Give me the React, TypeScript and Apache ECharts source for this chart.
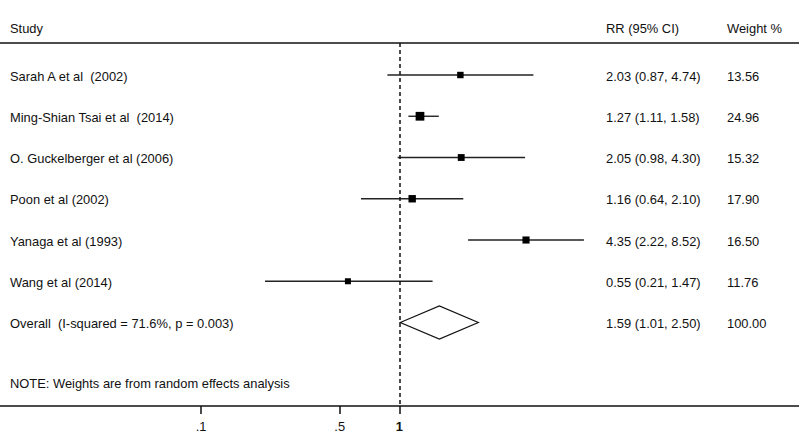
import React, { useEffect, useRef } from "react";
import * as echarts from "echarts";

const studies = [
  "Sarah A et al  (2002)",
  "Ming-Shian Tsai et al  (2014)",
  "O. Guckelberger et al (2006)",
  "Poon et al (2002)",
  "Yanaga et al (1993)",
  "Wang et al (2014)",
];
const rr = [2.03, 1.27, 2.05, 1.16, 4.35, 0.55];
const lower = [0.87, 1.11, 0.98, 0.64, 2.22, 0.21];
const upper = [4.74, 1.58, 4.3, 2.1, 8.52, 1.47];
const weights = [13.56, 24.96, 15.32, 17.9, 16.5, 11.76];

const overallLabel = "Overall  (I-squared = 71.6%, p = 0.003)";
const overallRR = 1.59;
const overallLower = 1.01;
const overallUpper = 2.5;
const overallWeight = 100.0;

const tickValues = [0.1, 0.5, 1];
const tickLabels = [".1", ".5", "1"];

const headers = ["Study", "RR (95% CI)", "Weight %"];
const note = "NOTE: Weights are from random effects analysis";

const FONT = "Liberation Sans, Arial, sans-serif";
const FS = 12.9;
const COL_STUDY = 10;
const COL_RR = 606;
const COL_W = 727;

const fmtCI = (m: number, l: number, u: number) =>
  `${m.toFixed(2)} (${l.toFixed(2)}, ${u.toFixed(2)})`;

export default function App() {
  const ref = useRef<HTMLDivElement>(null);
  useEffect(() => {
    if (!ref.current) return;
    const chart = echarts.init(ref.current, null, { renderer: "svg" });
    const studyData = studies.map((_, i) => [
      i + 1,
      Math.log10(rr[i]),
      Math.log10(lower[i]),
      Math.log10(upper[i]),
      weights[i],
    ]);
    const overallRow = studies.length + 1;
    const overallData = [
      [
        overallRow,
        Math.log10(overallRR),
        Math.log10(overallLower),
        Math.log10(overallUpper),
        overallWeight,
      ],
    ];
    const txt = (x: number, y: number, text: string) => ({
      type: "text",
      x,
      y,
      style: {
        text,
        fill: "#111",
        fontSize: FS,
        fontFamily: FONT,
        verticalAlign: "middle",
        align: "left",
      },
    });
    const tickLog = tickValues.map((v) => Math.log10(v));
    const option: any = {
      animation: false,
      backgroundColor: "#fff",
      grid: { left: 0, right: 0, top: 43, bottom: 39 },
      xAxis: [
        {
          type: "value",
          min: -2.014,
          max: 2.015,
          position: "bottom",
          axisLine: { show: true, lineStyle: { color: "#111", width: 1.5 } },
          splitLine: { show: false },
          axisTick: {
            show: true,
            customValues: tickLog,
            length: 8,
            lineStyle: { color: "#111", width: 1.5 },
          },
          axisLabel: {
            customValues: tickLog,
            margin: 14,
            fontSize: FS,
            fontFamily: FONT,
            color: "#111",
            formatter: (v: number) => {
              const idx = tickLog.findIndex((t) => Math.abs(t - v) < 1e-6);
              if (idx < 0) return "";
              return tickValues[idx] === 1
                ? `{b|${tickLabels[idx]}}`
                : tickLabels[idx];
            },
            rich: {
              b: { fontWeight: "bold", fontSize: FS, fontFamily: FONT, color: "#111" },
            },
          },
        },
        {
          type: "value",
          min: -2.014,
          max: 2.015,
          position: "top",
          axisLine: { show: true, lineStyle: { color: "#111", width: 1.5 } },
          axisTick: { show: false },
          axisLabel: { show: false },
          splitLine: { show: false },
        },
      ],
      yAxis: {
        type: "value",
        inverse: true,
        min: 0.224,
        max: 9.024,
        show: false,
        splitLine: { show: false },
      },
      graphic: [
        txt(COL_STUDY, 28, headers[0]),
        txt(COL_RR, 28, headers[1]),
        txt(COL_W, 28, headers[2]),
        txt(COL_STUDY, 383, note),
      ],
      series: [
        {
          type: "custom",
          xAxisIndex: 0,
          data: studyData,
          encode: { x: [1, 2, 3], y: 0 },
          renderItem: (params: any, api: any) => {
            const i = params.dataIndex;
            const row = api.value(0);
            const c = api.coord([api.value(1), row]);
            const lo = api.coord([api.value(2), row]);
            const hi = api.coord([api.value(3), row]);
            const s = 1.75 * Math.sqrt(api.value(4));
            return {
              type: "group",
              children: [
                {
                  type: "line",
                  shape: { x1: lo[0], y1: c[1], x2: hi[0], y2: c[1] },
                  style: { stroke: "#222", lineWidth: 1.4 },
                },
                {
                  type: "rect",
                  shape: { x: c[0] - s / 2, y: c[1] - s / 2, width: s, height: s },
                  style: { fill: "#000" },
                },
                txt(COL_STUDY, c[1] + 1, studies[i]),
                txt(COL_RR, c[1] + 1, fmtCI(rr[i], lower[i], upper[i])),
                txt(COL_W, c[1] + 1, weights[i].toFixed(2)),
              ],
            };
          },
        },
        {
          type: "custom",
          xAxisIndex: 0,
          data: overallData,
          encode: { x: [1, 2, 3], y: 0 },
          renderItem: (params: any, api: any) => {
            const row = api.value(0);
            const c = api.coord([api.value(1), row]);
            const lo = api.coord([api.value(2), row]);
            const hi = api.coord([api.value(3), row]);
            const h = 16.5;
            return {
              type: "group",
              children: [
                {
                  type: "polygon",
                  shape: {
                    points: [
                      [lo[0], c[1]],
                      [c[0], c[1] - h],
                      [hi[0], c[1]],
                      [c[0], c[1] + h],
                    ],
                  },
                  style: { fill: "#fff", stroke: "#111", lineWidth: 1.2 },
                },
                txt(COL_STUDY, c[1] + 1, overallLabel),
                txt(COL_RR, c[1] + 1, fmtCI(overallRR, overallLower, overallUpper)),
                txt(COL_W, c[1] + 1, overallWeight.toFixed(2)),
              ],
            };
          },
          markLine: {
            silent: true,
            symbol: "none",
            label: { show: false },
            lineStyle: { color: "#111", type: [4, 3], width: 1.5 },
            data: [{ xAxis: 0 }],
          },
          z: 3,
        },
      ],
    };
    chart.setOption(option);
    return () => chart.dispose();
  }, []);
  return (
    <div
      ref={ref}
      style={{ position: "absolute", left: 0, top: 0, width: 799, height: 445, background: "#fff" }}
    />
  );
}
